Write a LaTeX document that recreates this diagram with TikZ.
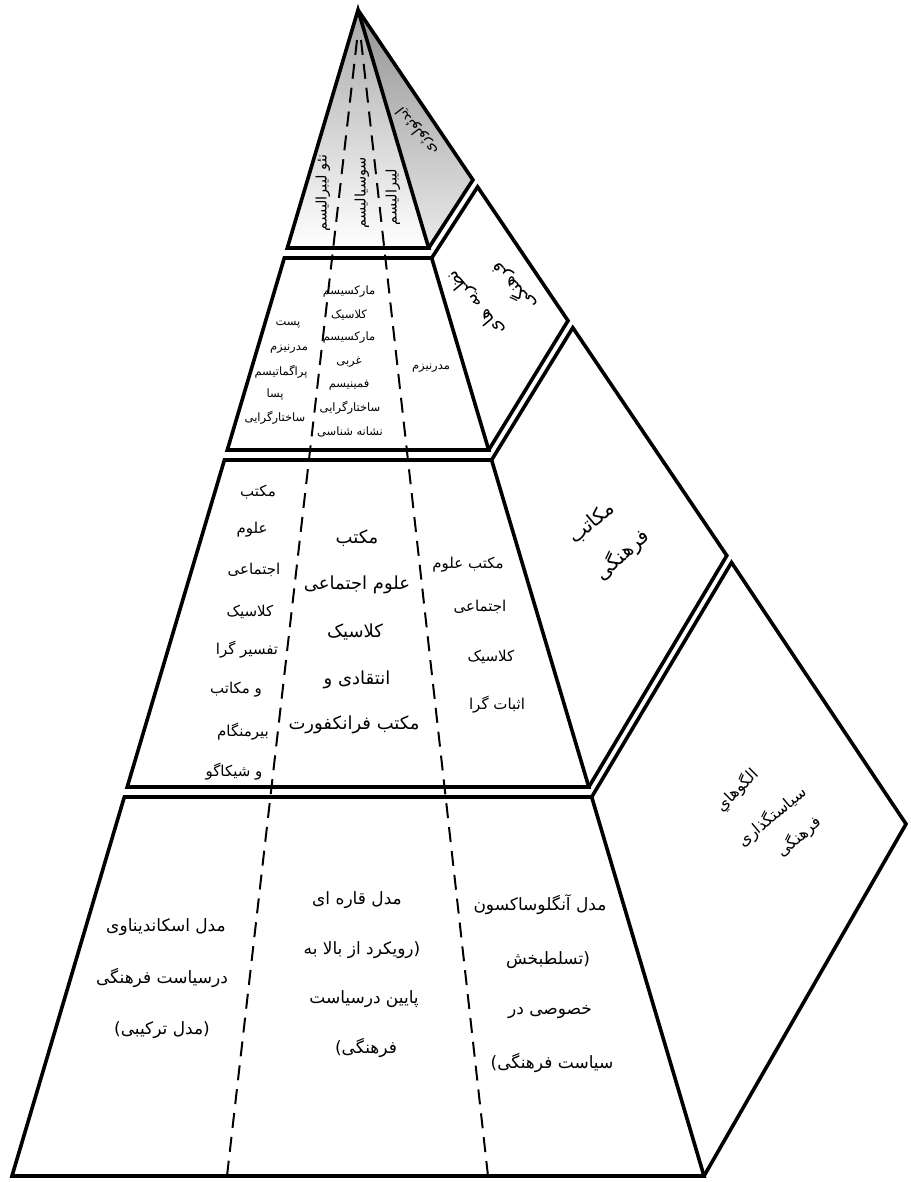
\documentclass[tikz,border=0pt]{standalone}
\usepackage{fontspec}
\TeXXeTstate=1
\newfontfamily\arabicfont[Script=Arabic]{DejaVu Sans}
\newcommand{\myrl}[1]{\beginR #1\endR}
\tikzset{
  edge/.style={line width=3.6pt, line join=miter, miter limit=4, black},
  divider/.style={line width=2pt, dash pattern=on 15pt off 9pt, black},
  ar/.style={inner sep=0pt, text=black},
  fTop/.style={ar, font=\arabicfont\fontsize{14.5}{16}\selectfont},
  fTwo/.style={ar, font=\arabicfont\fontsize{11.5}{13}\selectfont},
  fThree/.style={ar, font=\arabicfont\fontsize{15}{17}\selectfont},
  fThreeM/.style={ar, font=\arabicfont\fontsize{18}{20}\selectfont},
  fFour/.style={ar, font=\arabicfont\fontsize{17}{19}\selectfont},
  fSideA/.style={ar, font=\arabicfont\fontsize{18}{20}\selectfont},
  fSideB/.style={ar, font=\arabicfont\fontsize{20}{22}\selectfont},
  fSideC/.style={ar, font=\arabicfont\fontsize{16}{18}\selectfont},
}
\begin{document}
\begin{tikzpicture}[x=1pt,y=-1pt]
\useasboundingbox (0,0) rectangle (910,1182);
\fill[white] (0,0) rectangle (910,1182);

% corner points
\coordinate (A) at (358,10);
\coordinate (F1L) at (287.3,248);  \coordinate (F1R) at (428.7,248);  \coordinate (R1) at (472.9,179.9);
\coordinate (F2tL) at (284.3,258); \coordinate (F2tR) at (431.7,258); \coordinate (R2t) at (477.6,186.9);
\coordinate (F2bL) at (227.3,450); \coordinate (F2bR) at (488.7,450); \coordinate (R2b) at (568,320.7);
\coordinate (F3tL) at (224.4,460); \coordinate (F3tR) at (491.6,460); \coordinate (R3t) at (572.8,327.7);
\coordinate (F3bL) at (127.2,787); \coordinate (F3bR) at (588.8,787); \coordinate (R3b) at (726.8,555.6);
\coordinate (F4tL) at (124.3,797); \coordinate (F4tR) at (591.7,797); \coordinate (R4t) at (731.5,562.5);
\coordinate (F4bL) at (12,1176);   \coordinate (F4bR) at (704,1176);  \coordinate (R4b) at (906,824);
\coordinate (DLa) at (357,40);  \coordinate (DLb) at (227,1176);
\coordinate (DRa) at (361,40);  \coordinate (DRb) at (488,1176);

% shading of the top tier
\shade[top color=black!34, bottom color=white] (A) -- (F1L) -- (F1R) -- cycle;
\shade[top color=black!42, bottom color=black!8] (A) -- (R1) -- (F1R) -- cycle;

% dashed dividers
\draw[divider] (DLa) -- (DLb);
\draw[divider] (DRa) -- (DRb);

% outlines of the tiers
\draw[edge] (A) -- (F1L) -- (F1R) -- cycle;
\draw[edge] (A) -- (R1) -- (F1R);
\draw[edge] (F2tL) -- (F2tR) -- (F2bR) -- (F2bL) -- cycle;
\draw[edge] (F2tR) -- (R2t) -- (R2b) -- (F2bR);
\draw[edge] (F3tL) -- (F3tR) -- (F3bR) -- (F3bL) -- cycle;
\draw[edge] (F3tR) -- (R3t) -- (R3b) -- (F3bR);
\draw[edge] (F4tL) -- (F4tR) -- (F4bR) -- (F4bL) -- cycle;
\draw[edge] (F4tR) -- (R4t) -- (R4b) -- (F4bR);

% tier 1
\node[fTop, rotate=90] (t1a) at (323,193) {\myrl{نئو لیبرالیسم}};
\node[fTop, rotate=90] (t1b) at (362,193) {\myrl{سوسیالیسم}};
\node[fTop, rotate=90] (t1c) at (393,197) {\myrl{لیبرالیسم}};
\node[fTop, rotate=127.6] (s1) at (417,131) {\myrl{ایدئولوژی}};

% tier 2
\node[fTwo] (t2l1) at (288,325) {\myrl{پست}};
\node[fTwo] (t2l2) at (289,349) {\myrl{مدرنیزم}};
\node[fTwo] (t2l3) at (281,372) {\myrl{پراگماتیسم}};
\node[fTwo] (t2l4) at (275,395) {\myrl{پسا}};
\node[fTwo] (t2l5) at (275,418) {\myrl{ساختارگرایی}};
\node[fTwo] (t2m1) at (349,292) {\myrl{مارکسیسم}};
\node[fTwo] (t2m2) at (349,315) {\myrl{کلاسیک}};
\node[fTwo] (t2m3) at (349,338) {\myrl{مارکسیسم}};
\node[fTwo] (t2m4) at (349,362) {\myrl{غربی}};
\node[fTwo] (t2m5) at (349,385) {\myrl{فمینیسم}};
\node[fTwo] (t2m6) at (350,408) {\myrl{ساختارگرایی}};
\node[fTwo] (t2m7) at (350,432) {\myrl{نشانه شناسی}};
\node[fTwo] (t2r1) at (431,368) {\myrl{مدرنیزم}};
\node[fSideA, rotate=130] (s2a) at (476,303) {\myrl{نظریه های}};
\node[fSideA, rotate=132] (s2b) at (514,287) {\myrl{فرهنگی}};

% tier 3
\node[fThree] (t3l1) at (258,492) {\myrl{مکتب}};
\node[fThree] (t3l2) at (252,530) {\myrl{علوم}};
\node[fThree] (t3l3) at (254,570) {\myrl{اجتماعی}};
\node[fThree] (t3l4) at (250,612) {\myrl{کلاسیک}};
\node[fThree] (t3l5) at (247,650) {\myrl{تفسیر گرا}};
\node[fThree] (t3l6) at (236,690) {\myrl{و مکاتب}};
\node[fThree] (t3l7) at (243,732) {\myrl{بیرمنگام}};
\node[fThree] (t3l8) at (234,772) {\myrl{و شیکاگو}};
\node[fThreeM] (t3m1) at (357,538) {\myrl{مکتب}};
\node[fThreeM] (t3m2) at (357,585) {\myrl{علوم اجتماعی}};
\node[fThreeM] (t3m3) at (355,632) {\myrl{کلاسیک}};
\node[fThreeM] (t3m4) at (357,680) {\myrl{انتقادی و}};
\node[fThreeM] (t3m5) at (354,725) {\myrl{مکتب فرانکفورت}};
\node[fThree] (t3r1) at (468,565) {\myrl{مکتب علوم}};
\node[fThree] (t3r2) at (480,607) {\myrl{اجتماعی}};
\node[fThree] (t3r3) at (491,657) {\myrl{کلاسیک}};
\node[fThree] (t3r4) at (497,705) {\myrl{اثبات گرا}};
\node[fSideB, rotate=40] (s3a) at (592,523) {\myrl{مکاتب}};
\node[fSideB, rotate=42] (s3b) at (622,555) {\myrl{فرهنگی}};

% tier 4
\node[fFour] (t4l1) at (166,927) {\myrl{مدل اسکاندیناوی}};
\node[fFour] (t4l2) at (162,978) {\myrl{درسیاست فرهنگی}};
\node[fFour] (t4l3) at (162,1030) {\myrl{(مدل ترکیبی)}};
\node[fFour] (t4m1) at (357,900) {\myrl{مدل قاره ای}};
\node[fFour] (t4m2) at (362,950) {\myrl{(رویکرد از بالا به}};
\node[fFour] (t4m3) at (364,999) {\myrl{پایین درسیاست}};
\node[fFour] (t4m4) at (366,1048) {\myrl{فرهنگی)}};
\node[fFour] (t4r1) at (540,905) {\myrl{مدل آنگلوساکسون}};
\node[fFour] (t4r2) at (548,960) {\myrl{(تسلطبخش}};
\node[fFour] (t4r3) at (550,1012) {\myrl{خصوصی در}};
\node[fFour] (t4r4) at (552,1063) {\myrl{سیاست فرهنگی)}};
\node[fSideC, rotate=45] (s4a) at (737,790) {\myrl{الگوهاي}};
\node[fSideC, rotate=40] (s4b) at (772,817) {\myrl{سیاستگذاری}};
\node[fSideC, rotate=41] (s4c) at (799,837) {\myrl{فرهنگی}};
\end{tikzpicture}
\end{document}
